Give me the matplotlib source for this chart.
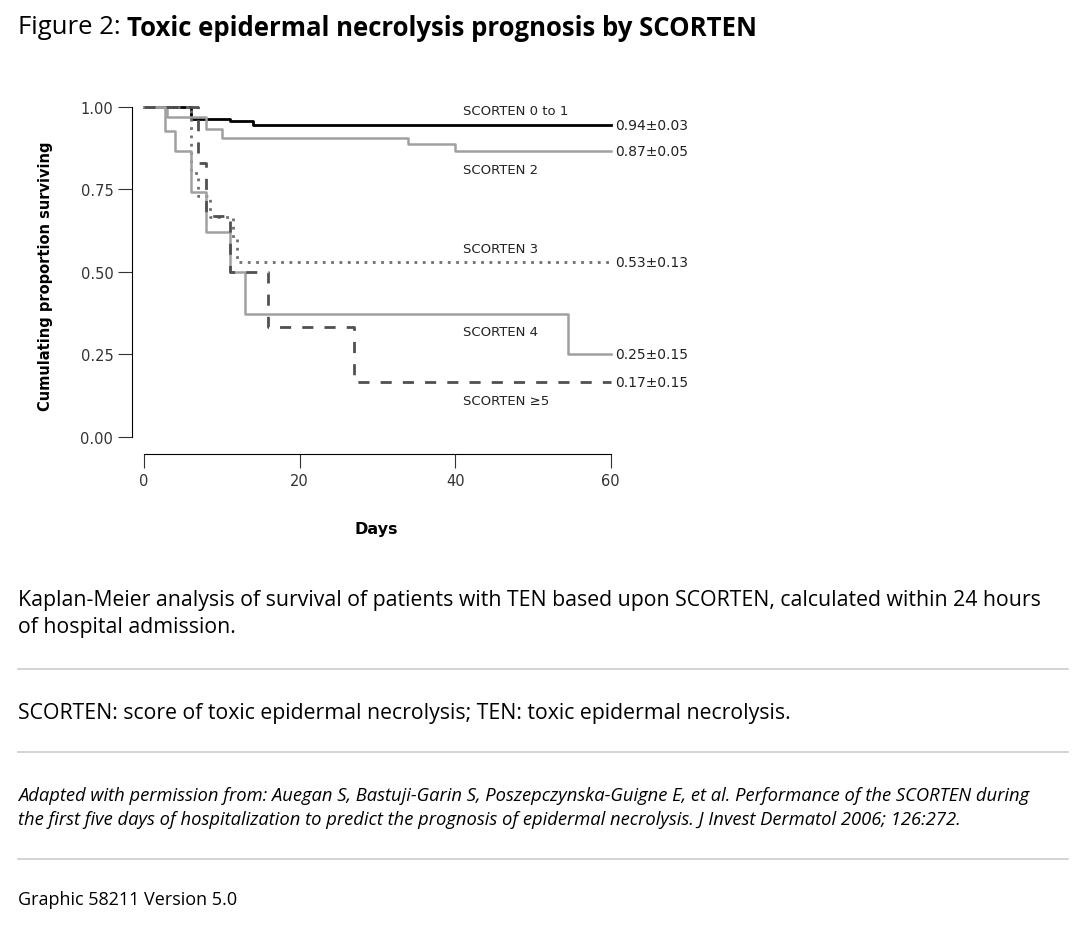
import matplotlib.pyplot as plt

# step curves: (days, survival)
s01_days = [0, 2, 6, 11, 14, 60]
s01_surv = [1.0, 1.0, 0.964, 0.958, 0.945, 0.945]
s2_days = [0, 3, 8, 10, 34, 40, 60]
s2_surv = [1.0, 0.97, 0.933, 0.906, 0.888, 0.867, 0.867]
s3_days = [0, 6, 7, 8.5, 11.5, 12, 60]
s3_surv = [1.0, 0.8, 0.73, 0.667, 0.6, 0.53, 0.53]
s4_days = [0, 2.7, 4, 6, 8, 11, 13, 54.5, 60]
s4_surv = [1.0, 0.927, 0.867, 0.742, 0.62, 0.5, 0.373, 0.25, 0.25]
s5_days = [0, 7, 8, 11, 16, 27, 60]
s5_surv = [1.0, 0.83, 0.67, 0.5, 0.333, 0.167, 0.167]

end_labels = ["0.94\u00b10.03", "0.87\u00b10.05", "0.53\u00b10.13", "0.25\u00b10.15", "0.17\u00b10.15"]
end_y = [0.945, 0.867, 0.53, 0.25, 0.167]
names = ["SCORTEN 0 to 1", "SCORTEN 2", "SCORTEN 3", "SCORTEN 4", "SCORTEN \u22655"]
name_y = [0.99, 0.81, 0.57, 0.32, 0.11]

plt.rcParams['font.family'] = ['Open Sans', 'DejaVu Sans']
fig = plt.figure(figsize=(10.85, 9.28), dpi=100)
ax = fig.add_axes([0.1217, 0.5097, 0.4498, 0.3847])
chart_font = ['DejaVu Sans']

ax.step(s01_days, s01_surv, where='post', color='black', lw=2)
ax.step(s2_days, s2_surv, where='post', color='#a0a0a0', lw=1.8)
ax.step(s3_days, s3_surv, where='post', color='#707070', lw=2, ls=(0, (1, 2)))
ax.step(s4_days, s4_surv, where='post', color='#a0a0a0', lw=1.8)
ax.step(s5_days, s5_surv, where='post', color='#505050', lw=2, ls=(0, (4, 4)))

for lab, y in zip(end_labels, end_y):
    ax.text(60.6, y, lab, fontsize=10, va='center', ha='left', color='#222222', family=chart_font)
for n, y in zip(names, name_y):
    ax.text(41, y, n, fontsize=9.5, va='center', ha='left', color='#222222', family=chart_font)

ax.set_xlim(-1.54, 61.2)
ax.set_ylim(-0.052, 1.03)
ax.set_xticks([0, 20, 40, 60])
ax.set_yticks([0, 0.25, 0.5, 0.75, 1.0])
ax.set_yticklabels(["0.00", "0.25", "0.50", "0.75", "1.00"])
for t in ax.get_xticklabels() + ax.get_yticklabels():
    t.set_family(chart_font)
ax.tick_params(labelsize=10.5, colors='#333333', length=10)
ax.spines['top'].set_visible(False)
ax.spines['right'].set_visible(False)
ax.spines['left'].set_bounds(0, 1.0)
ax.spines['bottom'].set_bounds(0, 60)
ax.set_xlabel("Days", fontsize=11.5, fontweight='bold', labelpad=24, family=chart_font)
ax.set_ylabel("Cumulating proportion surviving", fontsize=10.5, fontweight='bold', labelpad=20,
              family=chart_font)

t1 = fig.text(18 / 1085, 1 - 28 / 928, "Figure 2: ", fontsize=18.5, va='center', ha='left')
fig.canvas.draw()
bb = t1.get_window_extent()
fig.text(bb.x1 / fig.bbox.width, 1 - 28 / 928, "Toxic epidermal necrolysis prognosis by SCORTEN",
         fontsize=18.5, fontweight='bold', va='center', ha='left')
fig.text(18 / 1085, 1 - 614 / 928,
         "Kaplan-Meier analysis of survival of patients with TEN based upon SCORTEN, calculated within 24 hours\nof hospital admission.",
         fontsize=15.3, va='center', ha='left', linespacing=1.35)
fig.text(18 / 1085, 1 - 714 / 928,
         "SCORTEN: score of toxic epidermal necrolysis; TEN: toxic epidermal necrolysis.",
         fontsize=15.3, va='center', ha='left')
fig.text(18 / 1085, 1 - 808 / 928,
         "Adapted with permission from: Auegan S, Bastuji-Garin S, Poszepczynska-Guigne E, et al. Performance of the SCORTEN during\n"
         "the first five days of hospitalization to predict the prognosis of epidermal necrolysis. J Invest Dermatol 2006; 126:272.",
         fontsize=13.2, style='italic', va='center', ha='left', linespacing=1.45)
fig.text(18 / 1085, 1 - 900 / 928, "Graphic 58211 Version 5.0", fontsize=13, va='center', ha='left')

for yy in [670, 753, 860]:
    fig.add_artist(plt.Line2D([18 / 1085, 1068 / 1085], [1 - yy / 928] * 2, color='#cccccc', lw=1.2))

fig.savefig("out.png", dpi=100)
